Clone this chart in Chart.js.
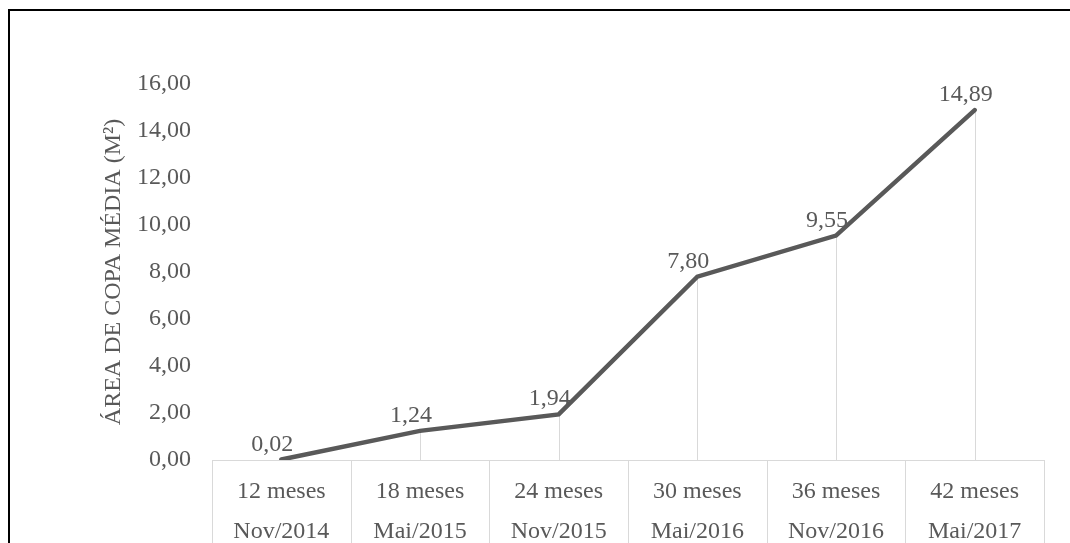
<!DOCTYPE html>
<html>
<head>
<meta charset="utf-8">
<script src="https://cdn.jsdelivr.net/npm/chart.js@4"></script>
<style>
  html, body { margin: 0; padding: 0; background: #fff; }
  #wrap { width: 1070px; height: 543px; position: relative; }
</style>
</head>
<body>
<div id="wrap"><canvas id="areaChart"></canvas></div>
<script>
const meses = ["12 meses", "18 meses", "24 meses", "30 meses", "36 meses", "42 meses"];
const datas = ["Nov/2014", "Mai/2015", "Nov/2015", "Mai/2016", "Nov/2016", "Mai/2017"];
const areaCopa = [0.02, 1.24, 1.94, 7.80, 9.55, 14.89];

const serif = "'Liberation Serif', 'Times New Roman', serif";
const grey = '#595959';
const light = '#d9d9d9';

function fmt(v) {
  return v.toFixed(2).replace('.', ',');
}

// outer frame (top + left only are visible in the original)
const framePlugin = {
  id: 'frame',
  afterDraw(chart) {
    const c = chart.ctx;
    c.save();
    c.strokeStyle = '#000';
    c.lineWidth = 2;
    c.beginPath();
    c.moveTo(9, 543);
    c.lineTo(9, 10);
    c.lineTo(1070, 10);
    c.stroke();
    c.restore();
  }
};

// drop lines from each point down to the axis
const dropLines = {
  id: 'dropLines',
  beforeDatasetsDraw(chart) {
    const c = chart.ctx;
    const meta = chart.getDatasetMeta(0);
    const bottom = chart.chartArea.bottom;
    c.save();
    c.strokeStyle = light;
    c.lineWidth = 1;
    meta.data.forEach(pt => {
      const x = Math.round(pt.x) + 0.5;
      c.beginPath();
      c.moveTo(x, pt.y);
      c.lineTo(x, bottom);
      c.stroke();
    });
    c.restore();
  }
};

// category boundaries below the axis (table look)
const categoryBoxes = {
  id: 'categoryBoxes',
  afterDraw(chart) {
    const c = chart.ctx;
    const xs = chart.scales.x;
    const half = (xs.getPixelForValue(1) - xs.getPixelForValue(0)) / 2;
    c.save();
    c.strokeStyle = light;
    c.lineWidth = 1;
    for (let i = 0; i <= meses.length; i++) {
      const x = Math.round(xs.getPixelForValue(i) - half) + 0.5;
      c.beginPath();
      c.moveTo(x, chart.chartArea.bottom);
      c.lineTo(x, chart.height);
      c.stroke();
    }
    c.restore();
  }
};

// value labels above the points
const valueLabels = {
  id: 'valueLabels',
  afterDatasetsDraw(chart) {
    const c = chart.ctx;
    const meta = chart.getDatasetMeta(0);
    c.save();
    c.font = '24px ' + serif;
    c.fillStyle = grey;
    c.textAlign = 'center';
    c.textBaseline = 'alphabetic';
    meta.data.forEach((pt, i) => {
      c.fillText(fmt(areaCopa[i]), pt.x - 9, pt.y - 9);
    });
    c.restore();
  }
};

const chart = new Chart(document.getElementById('areaChart'), {
  type: 'line',
  data: {
    labels: meses.map((m, i) => [m, datas[i]]),
    datasets: [{
      data: areaCopa,
      borderColor: grey,
      borderWidth: 4.5,
      borderCapStyle: 'round',
      borderJoinStyle: 'miter',
      pointRadius: 0,
      fill: false,
      tension: 0
    }]
  },
  options: {
    responsive: true,
    maintainAspectRatio: false,
    animation: false,
    layout: { padding: { top: 84, right: 26, bottom: 0, left: 95 } },
    plugins: {
      legend: { display: false },
      tooltip: { enabled: false }
    },
    scales: {
      x: {
        offset: true,
        grid: { display: false },
        border: { display: true, color: light, width: 1 },
        ticks: {
          color: grey,
          font: { family: serif, size: 24, lineHeight: 1.7 },
          padding: 3,
          maxRotation: 0,
          autoSkip: false
        },
        afterFit(scale) { scale.height = 83; }
      },
      y: {
        min: 0,
        max: 16,
        grid: { display: false, drawTicks: false },
        border: { display: false },
        ticks: {
          stepSize: 2,
          color: grey,
          padding: 21,
          font: { family: serif, size: 24 },
          callback: v => fmt(v)
        },
        title: {
          display: true,
          text: 'ÁREA DE COPA MÉDIA (M²)',
          color: grey,
          font: { family: serif, size: 24 }
        },
        afterFit(scale) { scale.width = 117; }
      }
    }
  },
  plugins: [framePlugin, dropLines, categoryBoxes, valueLabels]
});
</script>
</body>
</html>
